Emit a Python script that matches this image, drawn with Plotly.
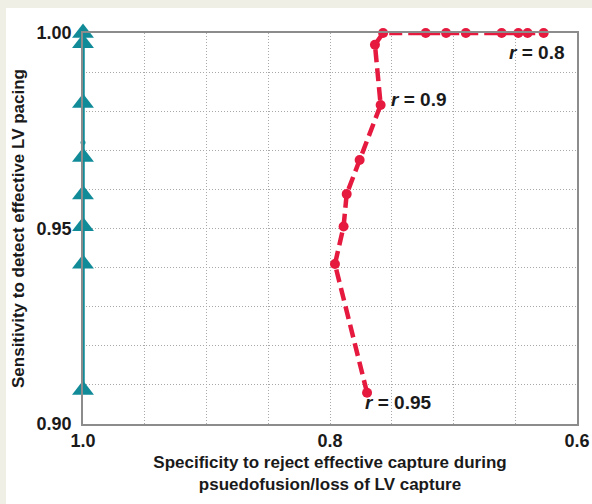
import plotly.graph_objects as go

# Teal series: specificity vs sensitivity
teal_spec = [1.0, 1.0, 1.0, 1.0, 1.0, 1.0, 1.0, 1.0]
teal_sens = [0.9087, 0.9410, 0.9506, 0.9587, 0.9683, 0.9821, 0.9974, 1.000]
teal_dot_spec = [1.0]
teal_dot_sens = [0.972]

# Red series (correlation threshold sweep)
red_spec = [0.770, 0.796, 0.789, 0.7865, 0.776, 0.759, 0.7636, 0.757,
            0.7225, 0.706, 0.690, 0.661, 0.6475, 0.640, 0.627]
red_sens = [0.908, 0.9409, 0.9505, 0.9588, 0.9675, 0.9816, 0.997, 1.000,
            1.000, 1.000, 1.000, 1.000, 1.000, 1.000, 1.000]

label_text = ["<i>r</i> = 0.8", "<i>r</i> = 0.9", "<i>r</i> = 0.95"]
label_x = [0.633, 0.728, 0.745]
label_y = [0.9949, 0.9831, 0.9056]

x_tickvals = [1.0, 0.8, 0.6]
x_ticktext = ["1.0", "0.8", "0.6"]
y_tickvals = [0.90, 0.95, 1.00]
y_ticktext = ["0.90", "0.95", "1.00"]

TEAL = "#118B98"
RED = "#E6193F"
FONT = "Liberation Sans"
TXT = "#1a1a1a"

fig = go.Figure()
fig.add_trace(go.Scatter(
    x=teal_spec, y=teal_sens, mode="lines+markers",
    line=dict(color=TEAL, width=3.5),
    marker=dict(symbol="triangle-up", size=19, color=TEAL),
    cliponaxis=False, showlegend=False))
fig.add_trace(go.Scatter(
    x=teal_dot_spec, y=teal_dot_sens, mode="markers",
    marker=dict(symbol="circle", size=5, color=TEAL),
    cliponaxis=False, showlegend=False))
fig.add_trace(go.Scatter(
    x=red_spec, y=red_sens, mode="lines+markers",
    line=dict(color=RED, width=4.5, dash="13px,6px"),
    marker=dict(symbol="circle", size=10, color=RED),
    cliponaxis=False, showlegend=False))

for t, x, y in zip(label_text, label_x, label_y):
    fig.add_annotation(x=x, y=y, text=t, showarrow=False,
                       font=dict(family=FONT, size=19, color=TXT, weight="bold"))

grid = dict(gridcolor="#A8A8A8", griddash="1px,2px", gridwidth=1)

fig.update_xaxes(
    range=[1.0, 0.6], tickmode="array", tickvals=x_tickvals, ticktext=x_ticktext,
    showgrid=True, **grid, zeroline=False,
    minor=dict(dtick=0.05, tick0=0, showgrid=True, **grid),
    showline=True, linecolor="#8c8c8c", linewidth=1.5, mirror=True, ticks="",
    tickfont=dict(family=FONT, size=18, color=TXT, weight="bold"),
    title=dict(text="Specificity to reject effective capture during<br>psuedofusion/loss of LV capture",
               font=dict(family=FONT, size=17, color=TXT, weight="bold"), standoff=6))
fig.update_yaxes(
    range=[0.90, 1.00], tickmode="array", tickvals=y_tickvals, ticktext=y_ticktext,
    showgrid=True, **grid, zeroline=False,
    minor=dict(dtick=0.01, tick0=0, showgrid=True, **grid),
    showline=True, linecolor="#8c8c8c", linewidth=1.5, mirror=True, ticks="",
    ticklabelstandoff=6,
    tickfont=dict(family=FONT, size=18, color=TXT, weight="bold"),
    title=dict(text="Sensitivity to detect effective LV pacing",
               font=dict(family=FONT, size=17, color=TXT, weight="bold"), standoff=8))

# white panel on beige page
fig.add_shape(type="rect", xref="paper", yref="paper",
              x0=(6 - 83) / 494, x1=(600 - 83) / 494,
              y0=(424 - 510) / 391, y1=(424 - 8) / 391,
              fillcolor="white", line=dict(width=0), layer="below")

fig.update_layout(
    width=592, height=504,
    margin=dict(l=83, r=15, t=33, b=80, autoexpand=False),
    paper_bgcolor="#EFEFE6", plot_bgcolor="white",
    showlegend=False)

fig.write_html("out.html", config={"displayModeBar": False},
               post_script="document.body.style.margin='0px';document.body.style.overflow='hidden';")
